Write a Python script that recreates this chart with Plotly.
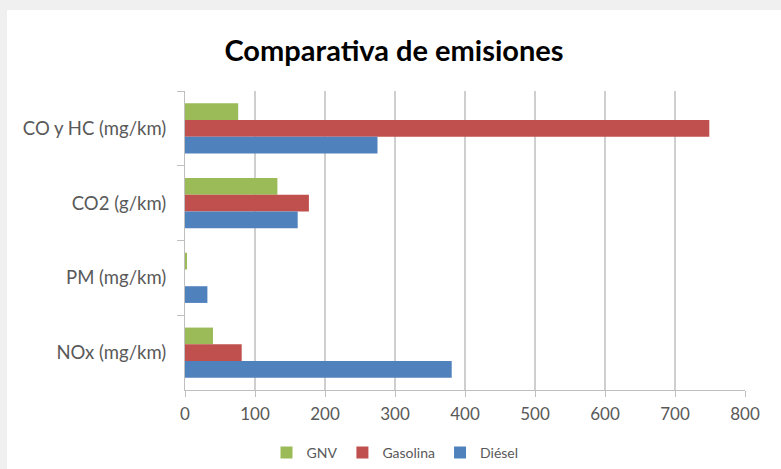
import plotly.graph_objects as go

categories = ["CO y HC (mg/km)", "CO2 (g/km)", "PM (mg/km)", "NOx (mg/km)"]
gnv = [76, 132, 2, 40]
gasolina = [749, 177, 0, 81]
diesel = [275, 161, 32, 381]
series_names = ["GNV", "Gasolina", "Diésel"]
colors = ["#9bbb59", "#c0504d", "#4f81bd"]
x_ticks = [0, 100, 200, 300, 400, 500, 600, 700, 800]

fig = go.Figure()
for name, vals, col in zip(series_names, [gnv, gasolina, diesel], colors):
    fig.add_trace(go.Bar(y=categories, x=vals, name=name, orientation="h",
                         marker=dict(color=col, line=dict(width=0))))

W, H = 781, 469
L, R, T, B = 185, 36, 91, 79
pw, ph = W - L - R, H - T - B

def px_x(p):
    return (p - L) / pw

def px_y(p):
    return (H - B - p) / ph

gray = "#f0f0f0"
# top strip and left strip of the grey frame
fig.add_shape(type="rect", xref="paper", yref="paper",
              x0=px_x(-5), x1=px_x(W + 5), y0=px_y(10), y1=px_y(-5),
              fillcolor=gray, line=dict(width=0), layer="below")
fig.add_shape(type="rect", xref="paper", yref="paper",
              x0=px_x(-5), x1=px_x(7), y0=px_y(H + 5), y1=px_y(-5),
              fillcolor=gray, line=dict(width=0), layer="below")

fig.update_layout(
    width=W, height=H,
    margin=dict(l=L, r=R, t=T, b=B, autoexpand=False),
    paper_bgcolor="white",
    plot_bgcolor="white",
    barmode="group", bargap=0.33, bargroupgap=0,
    font=dict(family="Lato, Open Sans, sans-serif", color="#595959"),
    title=dict(text="<b>Comparativa de emisiones</b>", xref="container", x=394 / W,
               xanchor="center", yref="container", y=1 - 51 / H, yanchor="middle",
               font=dict(size=29, color="#000000", family="Lato, sans-serif")),
    legend=dict(orientation="h", xref="container", x=395 / W, xanchor="center",
                yref="container", y=1 - 453 / H, yanchor="middle",
                font=dict(size=14, color="#595959"),
                bgcolor="rgba(0,0,0,0)", itemwidth=30, traceorder="normal"),
    xaxis=dict(range=[0, 800], tickvals=x_ticks, showgrid=True, gridcolor="#cfcfcf",
               gridwidth=1.5, zeroline=False, showline=True, linecolor="#bfbfbf",
               linewidth=1, ticks="outside", ticklen=6, tickcolor="#bfbfbf",
               tickfont=dict(size=17, color="#595959"), ticklabelstandoff=3,
               fixedrange=True, automargin=False),
    yaxis=dict(autorange="reversed", type="category", showline=True, linecolor="#bfbfbf",
               linewidth=1, ticks="outside", ticklen=7, tickcolor="#bfbfbf",
               tickson="boundaries", showgrid=False, automargin=False,
               tickfont=dict(size=18.5, color="#595959"), ticklabelstandoff=14),
)

fig.write_html("out.html")
